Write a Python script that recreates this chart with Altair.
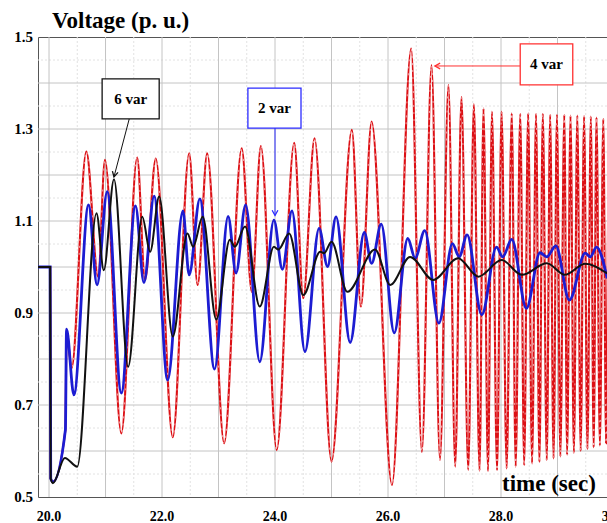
import altair as alt
import pandas as pd

# ---------------- data ----------------
blue_t = [19.80, 20.02, 20.03, 20.07, 20.29, 20.31, 20.44, 20.70, 20.85, 21.03, 21.28, 21.53,
          21.68, 21.86, 22.10, 22.37, 22.48, 22.67, 22.93, 23.17, 23.31, 23.48, 23.73, 23.98,
          24.13, 24.30, 24.53, 24.78, 24.93, 25.08, 25.33, 25.58, 25.71, 25.88, 26.11, 26.35,
          26.48, 26.65, 26.90, 27.14, 27.26, 27.40, 27.66, 27.92, 28.03, 28.19, 28.45, 28.69,
          28.81, 28.97, 29.21, 29.49, 29.58, 29.69, 29.88]
blue_v = [1.00, 1.00, 0.54, 0.533, 0.646, 0.865, 0.722, 1.135, 0.961, 1.164, 0.726, 1.133,
          0.966, 1.154, 0.754, 1.122, 0.983, 1.148, 0.778, 1.110, 0.987, 1.135, 0.794, 1.102,
          0.995, 1.122, 0.816, 1.084, 1.001, 1.109, 0.836, 1.075, 1.008, 1.093, 0.857, 1.062,
          1.019, 1.079, 0.878, 1.051, 1.022, 1.070, 0.896, 1.043, 1.022, 1.060, 0.910, 1.031,
          1.022, 1.046, 0.928, 1.030, 1.022, 1.043, 0.975]

black_t = [19.80, 20.02, 20.03, 20.07, 20.28, 20.50, 20.84, 20.97, 21.15, 21.40, 21.65, 21.79,
           21.95, 22.19, 22.45, 22.55, 22.72, 22.96, 23.20, 23.29, 23.47, 23.73, 23.98, 24.06,
           24.25, 24.50, 24.80, 24.87, 25.00, 25.28, 25.77, 26.04, 26.39, 26.80, 27.24, 27.60,
           28.01, 28.37, 28.81, 29.13, 29.49, 29.88]
black_v = [1.00, 1.00, 0.54, 0.530, 0.585, 0.566, 1.117, 0.993, 1.191, 0.783, 1.109, 1.033,
           1.153, 0.849, 1.073, 1.044, 1.109, 0.886, 1.059, 1.044, 1.088, 0.914, 1.044, 1.038,
           1.073, 0.939, 1.033, 1.030, 1.055, 0.946, 1.038, 0.961, 1.022, 0.972, 1.019, 0.979,
           1.015, 0.983, 1.008, 0.983, 1.007, 0.986]

red_t = [19.80, 20.02, 20.03, 20.07, 20.29, 20.31, 20.40, 20.66, 20.87, 20.99, 21.28, 21.56,
         21.70, 21.89, 22.19, 22.48, 22.63, 22.80, 23.10, 23.41, 23.59, 23.75, 24.03, 24.34,
         24.50, 24.70, 25.00, 25.36, 25.52, 25.71, 26.07, 26.41, 26.60, 26.77, 26.92, 27.07,
         27.19, 27.30, 27.42, 27.52, 27.62, 27.69, 27.77, 27.84, 27.93, 28.01, 28.10, 28.19,
         28.26, 28.34, 28.41, 28.48, 28.55, 28.62, 28.68, 28.74, 28.81, 28.87, 28.93, 28.99,
         29.05, 29.12, 29.17, 29.23, 29.29, 29.35, 29.41, 29.47, 29.53, 29.59, 29.64, 29.69,
         29.75, 29.81, 29.86, 29.91]
red_v = [1.00, 1.00, 0.54, 0.533, 0.646, 0.860, 0.780, 1.251, 0.979, 1.233, 0.638, 1.238,
         0.972, 1.236, 0.630, 1.247, 0.961, 1.247, 0.617, 1.258, 0.946, 1.263, 0.602, 1.270,
         0.932, 1.280, 0.577, 1.298, 0.914, 1.316, 0.526, 1.475, 0.598, 1.439, 0.580, 1.396,
         0.566, 1.370, 0.559, 1.354, 0.557, 1.345, 0.556, 1.338, 0.558, 1.338, 0.562, 1.334,
         0.566, 1.333, 0.569, 1.334, 0.573, 1.333, 0.576, 1.333, 0.580, 1.331, 0.584, 1.331,
         0.588, 1.331, 0.592, 1.329, 0.596, 1.329, 0.600, 1.328, 0.604, 1.327, 0.608, 1.325,
         0.612, 1.322, 0.617, 1.320]

x_tick_values = [20, 22, 24, 26, 28, 30]
x_tick_labels = ["20.0", "22.0", "24.0", "26.0", "28.0", "30.0"]
y_tick_values = [0.5, 0.7, 0.9, 1.1, 1.3, 1.5]
y_tick_labels = ["0.5", "0.7", "0.9", "1.1", "1.3", "1.5"]
x_major = [20, 21, 22, 23, 24, 25, 26, 27, 28, 29]
x_minor = [20.5, 21.5, 22.5, 23.5, 24.5, 25.5, 26.5, 27.5, 28.5, 29.5]
y_major = [0.6, 0.7, 0.8, 0.9, 1.0, 1.1, 1.2, 1.3, 1.4]
y_minor = [0.55, 0.65, 0.75, 0.85, 0.95, 1.05, 1.15, 1.25, 1.35, 1.45]

ann_labels = ["6 var", "2 var", "4 var"]
ann_colors = ["#111111", "#2b2bff", "#ff3030"]
box_t0 = [20.94, 23.52, 28.34]
box_t1 = [21.95, 24.46, 29.27]
box_v0 = [1.322, 1.302, 1.396]
box_v1 = [1.409, 1.389, 1.485]
arrow_t0 = [21.42, 24.00, 28.34]
arrow_v0 = [1.322, 1.302, 1.437]
arrow_t1 = [21.15, 24.00, 26.83]
arrow_v1 = [1.196, 1.112, 1.437]
arrow_angle = [193.6, 180, 270]

y_title = "Voltage (p. u.)"
x_title = "time (sec)"

# ---------------- chart ----------------
W, H = 569, 460
FONT = "Liberation Serif"
xs = alt.Scale(domain=[19.805, 29.876], nice=False, zero=False)
ys = alt.Scale(domain=[0.5, 1.5], nice=False, zero=False)


def series(t, v):
    return pd.DataFrame({"t": t, "v": v})


def xy():
    return dict(x=alt.X("t:Q", scale=xs, axis=None), y=alt.Y("v:Q", scale=ys, axis=None))


ymin_rules = alt.Chart(pd.DataFrame({"v": y_minor})).mark_rule(
    color="#e2e2e2", strokeWidth=1, strokeDash=[2, 2]
).encode(y=alt.Y("v:Q", scale=ys, axis=None))

xmin_rules = alt.Chart(pd.DataFrame({"t": x_minor})).mark_rule(
    color="#e2e2e2", strokeWidth=1, strokeDash=[2, 2]
).encode(x=alt.X("t:Q", scale=xs, axis=None))

ymaj_rules = alt.Chart(pd.DataFrame({"v": y_major})).mark_rule(
    color="#c4c4c4", strokeWidth=1
).encode(y=alt.Y("v:Q", scale=ys, axis=None))

xmaj_rules = alt.Chart(pd.DataFrame({"t": x_major})).mark_rule(
    color="#c4c4c4", strokeWidth=1
).encode(x=alt.X("t:Q", scale=xs, axis=None))

red_line = alt.Chart(series(red_t, red_v)).mark_line(
    interpolate="monotone", color="#dc1015", strokeWidth=2.1, clip=True
).encode(**xy())
red_dash = alt.Chart(series(red_t, red_v)).mark_line(
    interpolate="monotone", color="#ffffff", strokeWidth=0.7, strokeDash=[2, 5], clip=True, opacity=0.85
).encode(**xy())
blue_line = alt.Chart(series(blue_t, blue_v)).mark_line(
    interpolate="monotone", color="#1c1cd2", strokeWidth=2.8, clip=True
).encode(**xy())
black_line = alt.Chart(series(black_t, black_v)).mark_line(
    interpolate="monotone", color="#111111", strokeWidth=2.0, clip=True
).encode(**xy())

xlabels = alt.Chart(pd.DataFrame({"t": x_tick_values, "lab": x_tick_labels})).mark_text(
    font=FONT, fontWeight="bold", fontSize=14, align="center", baseline="middle", color="#000000"
).encode(x=alt.X("t:Q", scale=xs, axis=None), y=alt.value(H + 20), text="lab:N")

ylabels = alt.Chart(pd.DataFrame({"v": y_tick_values, "lab": y_tick_labels})).mark_text(
    font=FONT, fontWeight="bold", fontSize=15, align="right", baseline="middle", color="#000000"
).encode(y=alt.Y("v:Q", scale=ys, axis=None), x=alt.value(-5), text="lab:N")

ann = pd.DataFrame({
    "label": ann_labels, "color": ann_colors,
    "t0": box_t0, "t1": box_t1, "v0": box_v0, "v1": box_v1,
    "at0": arrow_t0, "av0": arrow_v0, "at1": arrow_t1, "av1": arrow_v1, "ang": arrow_angle,
})
ann["tc"] = (ann["t0"] + ann["t1"]) / 2
ann["vc"] = (ann["v0"] + ann["v1"]) / 2

arrows = alt.Chart(ann).mark_rule(strokeWidth=1).encode(
    x=alt.X("at0:Q", scale=xs, axis=None), y=alt.Y("av0:Q", scale=ys, axis=None),
    x2="at1:Q", y2="av1:Q", color=alt.Color("color:N", scale=None))
heads = alt.Chart(ann).mark_point(
    shape="M-0.55,1 L0,0 L0.55,1", filled=False, size=110, strokeWidth=1.3, opacity=1
).encode(
    x=alt.X("at1:Q", scale=xs, axis=None), y=alt.Y("av1:Q", scale=ys, axis=None),
    angle=alt.Angle("ang:Q", scale=None), color=alt.Color("color:N", scale=None))
boxes = alt.Chart(ann).mark_rect(fill="#ffffff", strokeWidth=1.3).encode(
    x=alt.X("t0:Q", scale=xs, axis=None), x2="t1:Q",
    y=alt.Y("v0:Q", scale=ys, axis=None), y2="v1:Q",
    stroke=alt.Stroke("color:N", scale=None))
box_text = alt.Chart(ann).mark_text(
    font=FONT, fontWeight="bold", fontSize=15, align="center", baseline="middle", color="#000000"
).encode(x=alt.X("tc:Q", scale=xs, axis=None), y=alt.Y("vc:Q", scale=ys, axis=None), text="label:N")

title_text = alt.Chart(pd.DataFrame({"s": [y_title]})).mark_text(
    font=FONT, fontWeight="bold", fontSize=23, align="left", baseline="alphabetic", color="#000000"
).encode(x=alt.value(14), y=alt.value(-9), text="s:N")
xtitle_text = alt.Chart(pd.DataFrame({"s": [x_title]})).mark_text(
    font=FONT, fontWeight="bold", fontSize=23, align="left", baseline="alphabetic", color="#000000"
).encode(x=alt.value(464), y=alt.value(454), text="s:N")

chart = alt.layer(
    ymin_rules, xmin_rules, ymaj_rules, xmaj_rules,
    red_line, red_dash, blue_line, black_line,
    arrows, heads, boxes, box_text,
    xlabels, ylabels, title_text, xtitle_text,
).properties(
    width=W, height=H,
    padding={"left": 38, "top": 37, "right": 0, "bottom": 26},
    autosize=alt.AutoSizeParams(type="none"),
    background="#ffffff",
).configure_view(stroke="#555555", strokeWidth=1)

chart.save("out.html", embed_options={"renderer": "svg", "actions": False})
